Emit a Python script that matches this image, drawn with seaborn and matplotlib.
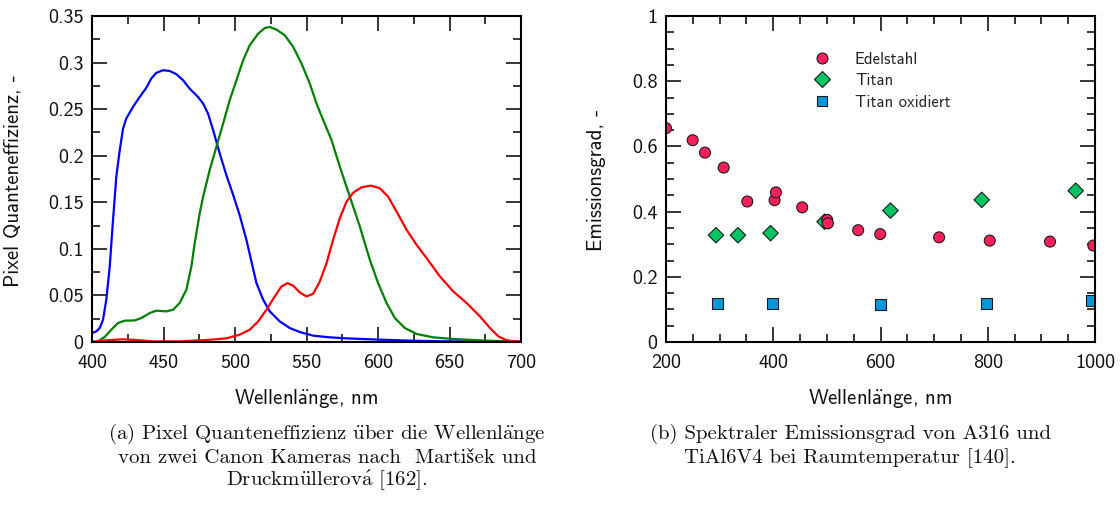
import numpy as np
import pandas as pd
import matplotlib
matplotlib.use("Agg")
import matplotlib.pyplot as plt
from matplotlib.ticker import FixedLocator, FixedFormatter, MultipleLocator
import seaborn as sns

# --- Pixel quantum efficiency of the three colour channels (nm, -) ---
wl_blue = [400, 403.0, 405.4, 407.7, 410.0, 412.4, 414.7, 417.0, 419.4, 421.7, 424.0,
           428.7, 433.3, 438.0, 441.5, 445.0, 449.7, 454.3, 459.0, 463.7, 468.3, 474.2,
           477.7, 481.2, 484.7, 489.3, 494.0, 498.7, 503.3, 508.0, 511.5, 515.0, 519.7,
           524.3, 531.3, 538.3, 545.3, 554.7, 566.3, 578.0, 601.3, 624.6, 648.0, 700]
qe_blue = [0.0096, 0.0114, 0.015, 0.0239, 0.0454, 0.081, 0.131, 0.1775, 0.206, 0.229,
           0.24, 0.2525, 0.263, 0.273, 0.283, 0.289, 0.2918, 0.291, 0.2875, 0.281, 0.272,
           0.263, 0.256, 0.245, 0.2275, 0.2025, 0.179, 0.158, 0.136, 0.1096, 0.0864,
           0.0632, 0.0454, 0.0329, 0.0221, 0.015, 0.0107, 0.0068, 0.005, 0.0039, 0.0025,
           0.0014, 0.0007, 0.0004]

wl_green = [400, 404.2, 408.9, 413.5, 418.2, 422.9, 429.9, 434.5, 440.4, 445.0, 452.0,
            456.7, 461.3, 466.0, 469.5, 471.8, 475.3, 477.7, 482.3, 487.0, 491.7, 496.3,
            501.0, 505.7, 510.3, 516.2, 520.8, 524.3, 529.0, 534.8, 540.7, 546.5, 552.3,
            557.0, 561.7, 567.5, 573.3, 580.3, 587.3, 594.3, 600.1, 606.0, 611.8, 618.8,
            627.0, 638.6, 652.6, 671.3, 700]
qe_green = [0.0, 0.0007, 0.0054, 0.0132, 0.0204, 0.0229, 0.0232, 0.0257, 0.0311, 0.0336,
            0.0329, 0.0346, 0.0418, 0.0561, 0.0811, 0.106, 0.138, 0.156, 0.1846, 0.2096,
            0.2346, 0.2596, 0.281, 0.3025, 0.3186, 0.331, 0.3371, 0.3382, 0.3354, 0.3293,
            0.3168, 0.299, 0.2775, 0.256, 0.2382, 0.2168, 0.1882, 0.156, 0.124, 0.0882,
            0.0632, 0.0418, 0.0257, 0.015, 0.0086, 0.005, 0.0032, 0.0018, 0.0]

wl_red = [400, 410.0, 421.7, 431.0, 442.7, 461.3, 480.0, 494.0, 503.3, 510.3, 516.2,
          522.0, 527.8, 532.5, 536.7, 540.7, 545.3, 550.0, 554.7, 559.3, 564.0, 568.6,
          573.3, 578.0, 582.7, 588.5, 595.0, 601.3, 607.1, 613.0, 620.0, 627.0, 634.0,
          643.3, 652.6, 662.0, 671.3, 678.3, 684.1, 690.0, 700]
qe_red = [0.0, 0.0018, 0.0029, 0.0021, 0.0007, 0.0007, 0.0021, 0.0039, 0.0079, 0.0132,
          0.0221, 0.0346, 0.0489, 0.0596, 0.0632, 0.0604, 0.0532, 0.0489, 0.0518, 0.065,
          0.0846, 0.1096, 0.1329, 0.1507, 0.1604, 0.1661, 0.1679, 0.165, 0.156, 0.14,
          0.1204, 0.1043, 0.09, 0.0704, 0.0543, 0.0418, 0.0275, 0.015, 0.0061, 0.0018, 0.0]

# --- Spectral emissivity (nm, -) ---
wl_edelstahl = [200, 249.7, 272.7, 307.5, 351.6, 402.5, 405, 454, 500.6, 501.9, 558.4,
                599.4, 709.3, 803.7, 916.1, 996.9]
eps_edelstahl = [0.656, 0.619, 0.581, 0.535, 0.431, 0.435, 0.459, 0.413, 0.3745, 0.364,
                 0.343, 0.331, 0.321, 0.311, 0.308, 0.296]
wl_titan = [293.2, 334.2, 395, 495.7, 618.6, 788.8, 964]
eps_titan = [0.3276, 0.3276, 0.334, 0.369, 0.403, 0.436, 0.464]
wl_titan_ox = [296.9, 398.1, 599.4, 796.9, 993.2]
eps_titan_ox = [0.118, 0.117, 0.116, 0.118, 0.1265]

# --- Ticks ---
qe_xticks = [400, 450, 500, 550, 600, 650, 700]
qe_xlabels = ["400", "450", "500", "550", "600", "650", "700"]
qe_yticks = [0, 0.05, 0.1, 0.15, 0.2, 0.25, 0.3, 0.35]
qe_ylabels = ["0", "0.05", "0.1", "0.15", "0.2", "0.25", "0.3", "0.35"]
em_xticks = [200, 400, 600, 800, 1000]
em_xlabels = ["200", "400", "600", "800", "1000"]
em_yticks = [0, 0.2, 0.4, 0.6, 0.8, 1.0]
em_ylabels = ["0", "0.2", "0.4", "0.6", "0.8", "1"]

sns.set_style("ticks")
plt.rcParams["font.family"] = ["cmss10", "STIXGeneral"]
plt.rcParams["axes.formatter.use_mathtext"] = True
plt.rcParams["mathtext.fontset"] = "cm"

W, H = 1120, 513
fig = plt.figure(figsize=(W / 100, H / 100), dpi=100)


def px_axes(x0, y0, x1, y1):
    return fig.add_axes([x0 / W, 1 - y1 / H, (x1 - x0) / W, (y1 - y0) / H])


ax1 = px_axes(92, 16, 521, 342)
ax2 = px_axes(666, 16, 1095, 342)

# Quantum efficiency curves
qe = pd.concat([
    pd.DataFrame({"wl": wl_blue, "qe": qe_blue, "kanal": "B"}),
    pd.DataFrame({"wl": wl_green, "qe": qe_green, "kanal": "G"}),
    pd.DataFrame({"wl": wl_red, "qe": qe_red, "kanal": "R"}),
])
sns.lineplot(data=qe, x="wl", y="qe", hue="kanal",
             palette={"B": "#0000ff", "G": "#008000", "R": "#ff0000"},
             estimator=None, legend=False, linewidth=1.6, ax=ax1)

# Emissivity points; Edelstahl drawn last so it sits on top
em = pd.concat([
    pd.DataFrame({"wl": wl_titan_ox, "eps": eps_titan_ox, "material": "Titan oxidiert"}),
    pd.DataFrame({"wl": wl_titan, "eps": eps_titan, "material": "Titan"}),
    pd.DataFrame({"wl": wl_edelstahl, "eps": eps_edelstahl, "material": "Edelstahl"}),
], ignore_index=True)
order = ["Edelstahl", "Titan", "Titan oxidiert"]
sns.scatterplot(data=em, x="wl", y="eps", hue="material", style="material",
                hue_order=order, style_order=order,
                palette={"Edelstahl": "#ff1f5b", "Titan": "#00c462", "Titan oxidiert": "#0a96d8"},
                markers={"Edelstahl": "o", "Titan": "D", "Titan oxidiert": "s"},
                s=62, edgecolor="#1a1a1a", linewidth=0.8, ax=ax2)

handles, labels = ax2.get_legend_handles_labels()
leg = ax2.legend(handles, labels, frameon=False, fontsize=12,
                 loc="upper left", bbox_to_anchor=(805 / W, 1 - 52 / H),
                 bbox_transform=fig.transFigure, borderpad=0, borderaxespad=0,
                 handletextpad=1.0, labelspacing=0.38, handlelength=2.0)

for ax, xt, xl, yt, yl, xlim, ylim, xminor, yminor in [
    (ax1, qe_xticks, qe_xlabels, qe_yticks, qe_ylabels, (400, 700), (0, 0.35), 25, 0.025),
    (ax2, em_xticks, em_xlabels, em_yticks, em_ylabels, (200, 1000), (0, 1), 50, 0.05),
]:
    ax.set_xlim(*xlim)
    ax.set_ylim(*ylim)
    ax.xaxis.set_major_locator(FixedLocator(xt))
    ax.xaxis.set_major_formatter(FixedFormatter(xl))
    ax.yaxis.set_major_locator(FixedLocator(yt))
    ax.yaxis.set_major_formatter(FixedFormatter(yl))
    ax.xaxis.set_minor_locator(MultipleLocator(xminor))
    ax.yaxis.set_minor_locator(MultipleLocator(yminor))
    ax.tick_params(which="both", direction="in", top=True, right=True,
                   width=1.1, color="black", labelsize=14.5, labelcolor="#111111")
    ax.tick_params(which="major", length=10.5)
    ax.tick_params(which="minor", length=5.5)
    ax.tick_params(axis="x", pad=9)
    ax.tick_params(axis="y", pad=6)
    for sp in ax.spines.values():
        sp.set_linewidth(1.5)
        sp.set_color("black")
    ax.set_xlabel("")
    ax.set_ylabel("")

# Axis titles; accented letters are set through mathtext so they stay in Computer Modern
wl_label = r"Wellenl$\ddot{\mathsf{a}}$nge, nm"
lab_kw = dict(fontsize=15, color="#111111")
fig.text(306.5 / W, 1 - 399 / H, wl_label, ha="center", va="center", **lab_kw)
fig.text(880.5 / W, 1 - 399 / H, wl_label, ha="center", va="center", **lab_kw)
fig.text(13 / W, 1 - 181 / H, "Pixel Quanteneffizienz, -", rotation=90,
         ha="center", va="center", **lab_kw)
fig.text(596 / W, 1 - 180 / H, "Emissionsgrad, -", rotation=90,
         ha="center", va="center", **lab_kw)

cap_kw = dict(fontsize=15, color="#111111", ha="center", va="baseline",
              family=["cmr10", "STIXGeneral"])
cap_a = [r"(a) Pixel Quanteneffizienz $\ddot{\mathrm{u}}$ber die Wellenl$\ddot{\mathrm{a}}$nge",
         "von zwei Canon Kameras nach  Martišek und",
         r"Druckm$\ddot{\mathrm{u}}$llerov$\acute{\mathrm{a}}$ [162]."]
cap_b = ["(b) Spektraler Emissionsgrad von A316 und",
         "TiAl6V4 bei Raumtemperatur [140]."]
for line, yb in zip(cap_a, [439, 463, 486]):
    fig.text(327 / W, 1 - yb / H, line, **cap_kw)
for line, yb in zip(cap_b, [439, 463]):
    fig.text(850 / W, 1 - yb / H, line, **cap_kw)

fig.savefig("out.png", dpi=100)
